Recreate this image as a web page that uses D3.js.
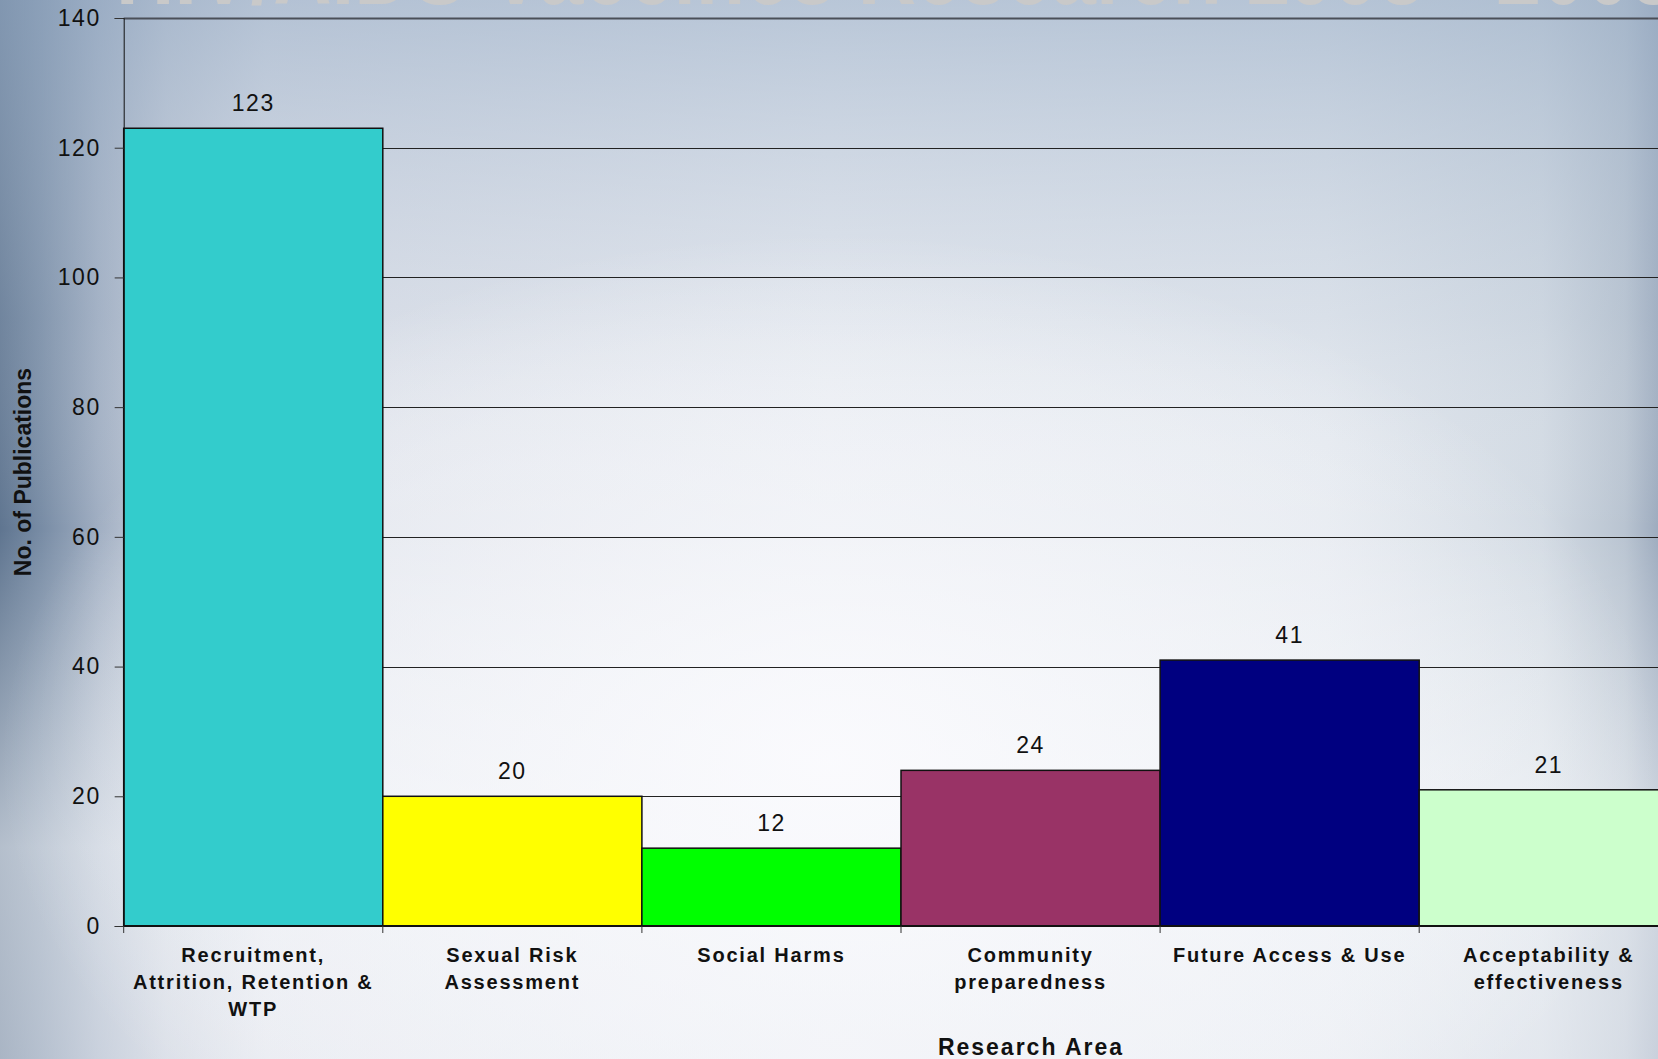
<!DOCTYPE html>
<html>
<head>
<meta charset="utf-8">
<script src="https://cdn.jsdelivr.net/npm/d3@7"></script>
<style>
  html, body { margin: 0; padding: 0; overflow: hidden; }
  text { font-family: "Liberation Sans", Arial, sans-serif; }
</style>
</head>
<body>
<div id="chart"></div>
<script>
// Research areas and number of publications per area.
var categories = [
  ["Recruitment,", "Attrition, Retention &", "WTP"],
  ["Sexual Risk", "Assessment"],
  ["Social Harms"],
  ["Community", "preparedness"],
  ["Future Access & Use"],
  ["Acceptability &", "effectiveness"]
];
var values = [123, 20, 12, 24, 41, 21];
var barColors = ["#33cccc", "#ffff00", "#00ff00", "#993366", "#000080", "#ccffcc"];
var yTicks = [0, 20, 40, 60, 80, 100, 120, 140];

var width = 1658;
var height = 1059;

var svg = d3.select("#chart")
  .append("svg")
    .attr("width", width)
    .attr("height", height);

var defs = svg.append("defs");

// Slide background: slate edge on the left, pale centre, blue-grey top.
var bgH = defs.append("linearGradient").attr("id", "bgH");
[[0, "#5f7590"], [0.025, "#788ca5"], [0.06, "#a0aec2"], [0.1, "#c3cbd8"],
 [0.16, "#dce0e9"], [0.5, "#e9ecf2"], [0.8, "#e2e7ee"], [0.93, "#d2dae3"],
 [0.98, "#b9c4d1"], [1, "#9eacbf"]].forEach(function (s) {
  bgH.append("stop").attr("offset", s[0]).attr("stop-color", s[1]);
});

var bgV = defs.append("linearGradient").attr("id", "bgV")
  .attr("x1", 0).attr("y1", 0).attr("x2", 0).attr("y2", 1);
bgV.append("stop").attr("offset", 0).attr("stop-color", "#98adc6").attr("stop-opacity", 0.6);
bgV.append("stop").attr("offset", 0.3).attr("stop-color", "#b6c4d5").attr("stop-opacity", 0.2);
bgV.append("stop").attr("offset", 0.5).attr("stop-color", "#ffffff").attr("stop-opacity", 0);
bgV.append("stop").attr("offset", 0.8).attr("stop-color", "#fafbfd").attr("stop-opacity", 0.55);
bgV.append("stop").attr("offset", 1).attr("stop-color", "#f4f5f9").attr("stop-opacity", 0.5);

var glow = defs.append("radialGradient").attr("id", "glow")
  .attr("cx", 0.5).attr("cy", 0.72).attr("r", 0.5);
glow.append("stop").attr("offset", 0).attr("stop-color", "#fbfbfe").attr("stop-opacity", 0.9);
glow.append("stop").attr("offset", 0.7).attr("stop-color", "#f7f8fb").attr("stop-opacity", 0.4);
glow.append("stop").attr("offset", 1).attr("stop-color", "#ffffff").attr("stop-opacity", 0);

svg.append("rect").attr("width", width).attr("height", height).attr("fill", "url(#bgH)");
svg.append("rect").attr("width", width).attr("height", height).attr("fill", "url(#bgV)");
svg.append("rect").attr("width", width).attr("height", height).attr("fill", "url(#glow)");

// Slide title, mostly cut off at the top.
svg.append("text")
  .attr("x", 116)
  .attr("y", 4)
  .attr("font-size", 100)
  .attr("font-weight", "bold")
  .attr("fill", "#c9c9c9")
  .attr("textLength", 1560)
  .attr("lengthAdjust", "spacingAndGlyphs")
  .text("HIV/AIDS Vaccines Research 1998 - 2008");

var plotLeft = 123.7;
var step = 259.1;

var x = d3.scaleBand()
  .domain(d3.range(values.length))
  .range([plotLeft, plotLeft + step * values.length])
  .padding(0);

var y = d3.scaleLinear()
  .domain([0, 140])
  .range([926, 18]);

// Gridlines
svg.selectAll("line.grid")
  .data(yTicks.slice(1))
  .enter()
  .append("line")
    .attr("class", "grid")
    .attr("x1", plotLeft)
    .attr("x2", width)
    .attr("y1", function (d) { return Math.round(y(d)) + 0.5; })
    .attr("y2", function (d) { return Math.round(y(d)) + 0.5; })
    .attr("stroke", function (d) { return d == 140 ? "#4a4f58" : "#222"; })
    .attr("stroke-width", function (d) { return d == 140 ? 2 : 1; });

// Bars
svg.selectAll("rect.bar")
  .data(values)
  .enter()
  .append("rect")
    .attr("class", "bar")
    .attr("x", function (d, i) { return x(i); })
    .attr("y", function (d) { return y(d); })
    .attr("width", x.bandwidth())
    .attr("height", function (d) { return y(0) - y(d); })
    .attr("fill", function (d, i) { return barColors[i]; })
    .attr("stroke", "#111")
    .attr("stroke-width", 1.5);

// Value labels
svg.selectAll("text.value")
  .data(values)
  .enter()
  .append("text")
    .attr("class", "value")
    .attr("x", function (d, i) { return x(i) + x.bandwidth() / 2; })
    .attr("y", function (d) { return y(d) - 17; })
    .attr("text-anchor", "middle")
    .attr("font-size", 23)
    .attr("letter-spacing", 1.5)
    .attr("fill", "#111")
    .text(function (d) { return d; });

// Y axis
var yAxis = svg.append("g")
  .attr("transform", "translate(" + plotLeft + ",0)")
  .call(d3.axisLeft(y).tickValues(yTicks).tickSize(9).tickPadding(14));

yAxis.select(".domain").attr("stroke", "#111");
yAxis.selectAll(".tick line").attr("stroke", "#333");
yAxis.selectAll(".tick text")
  .attr("font-size", 23)
  .attr("letter-spacing", 1.5)
  .attr("font-family", "Liberation Sans, Arial, sans-serif")
  .attr("fill", "#111");

// X axis line and ticks at bar boundaries
svg.append("line")
  .attr("x1", plotLeft).attr("x2", width)
  .attr("y1", y(0)).attr("y2", y(0))
  .attr("stroke", "#111").attr("stroke-width", 2);

svg.selectAll("line.xtick")
  .data(d3.range(values.length + 1))
  .enter()
  .append("line")
    .attr("class", "xtick")
    .attr("x1", function (i) { return plotLeft + i * step; })
    .attr("x2", function (i) { return plotLeft + i * step; })
    .attr("y1", y(0))
    .attr("y2", y(0) + 7)
    .attr("stroke", "#333");

// Category labels
svg.selectAll("text.cat")
  .data(categories)
  .enter()
  .append("text")
    .attr("class", "cat")
    .attr("text-anchor", "middle")
    .attr("font-size", 20)
    .attr("font-weight", "bold")
    .attr("letter-spacing", 1.8)
    .attr("fill", "#111")
    .each(function (lines, i) {
      var t = d3.select(this);
      lines.forEach(function (line, j) {
        t.append("tspan")
          .attr("x", x(i) + x.bandwidth() / 2)
          .attr("y", 962 + j * 27)
          .text(line);
      });
    });

// Axis titles
svg.append("text")
  .attr("transform", "translate(31,472) rotate(-90)")
  .attr("text-anchor", "middle")
  .attr("font-size", 23)
  .attr("font-weight", "bold")
  .attr("fill", "#111")
  .text("No. of Publications");

svg.append("text")
  .attr("x", 1031)
  .attr("y", 1055)
  .attr("text-anchor", "middle")
  .attr("font-size", 23)
  .attr("font-weight", "bold")
  .attr("letter-spacing", 2)
  .attr("fill", "#111")
  .text("Research Area");
</script>
</body>
</html>
